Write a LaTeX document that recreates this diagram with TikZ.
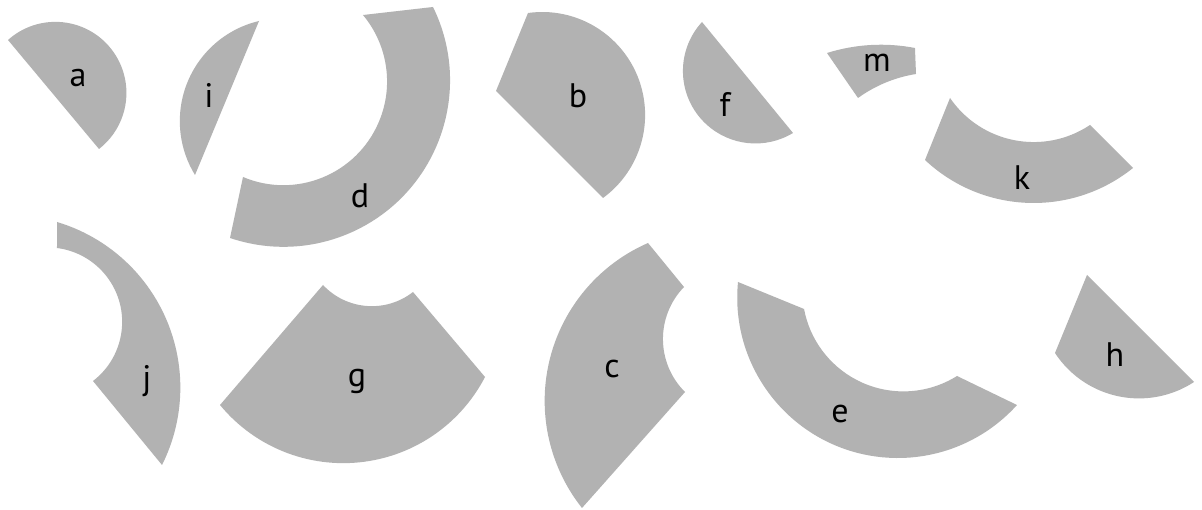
\documentclass[tikz,border=0pt]{standalone}
\usepackage{fontspec}
\setmainfont{PT Sans}
\definecolor{piecegray}{RGB}{178,178,178}
% circle arc through three points (pixel coordinates, y pointing down)
\newcommand\mkarc[7]{%
  \pgfmathsetmacro\mkbx{(#4-#2)/100}%
  \pgfmathsetmacro\mkby{(#3-#5)/100}%
  \pgfmathsetmacro\mkcx{(#6-#2)/100}%
  \pgfmathsetmacro\mkcy{(#3-#7)/100}%
  \pgfmathsetmacro\mkd{2*(\mkbx*\mkcy-\mkby*\mkcx)}%
  \pgfmathsetmacro\mkbb{\mkbx*\mkbx+\mkby*\mkby}%
  \pgfmathsetmacro\mkcc{\mkcx*\mkcx+\mkcy*\mkcy}%
  \pgfmathsetmacro\mkux{(\mkcy*\mkbb-\mkby*\mkcc)/\mkd}%
  \pgfmathsetmacro\mkuy{(\mkbx*\mkcc-\mkcx*\mkbb)/\mkd}%
  \pgfmathsetmacro\mkr{100*veclen(\mkux,\mkuy)}%
  \pgfmathsetmacro\mka{atan2(-\mkuy,-\mkux)}%
  \pgfmathsetmacro\mkb{atan2(\mkby-\mkuy,\mkbx-\mkux)}%
  \pgfmathsetmacro\mkc{atan2(\mkcy-\mkuy,\mkcx-\mkux)}%
  \pgfmathsetmacro\mkdb{mod(\mkb-\mka+720,360)}%
  \pgfmathsetmacro\mkdc{mod(\mkc-\mka+720,360)}%
  \pgfmathsetmacro\mke{\mkdb<\mkdc ? \mka+\mkdc : \mka+\mkdc-360}%
  \xdef#1{arc[start angle=\mka, end angle=\mke, radius=\mkr pt]}%
}
\begin{document}
\begin{tikzpicture}[x=1pt,y=1pt,
  piece/.style={fill=piecegray},
  lbl/.style={anchor=base,inner sep=0pt,font=\fontsize{34}{40}\selectfont}]
\useasboundingbox (0,-510) rectangle (1202,0);
\fill[white] (0,-510) rectangle (1202,0);
% a
\mkarc\arcAo{8}{40}{126}{85}{99}{149}
\fill[piece] (8,-40) \arcAo -- cycle;
% i
\mkarc\arcIo{259}{21}{182}{100}{195}{175}
\fill[piece] (259,-21) \arcIo -- cycle;
% d
\mkarc\arcDo{433}{7}{450}{83}{230}{238}
\mkarc\arcDi{243}{177}{387}{77}{363}{15}
\fill[piece] (433,-7) \arcDo -- (243,-177) \arcDi -- cycle;
% b
\mkarc\arcBo{528}{13}{645}{110}{603}{198}
\fill[piece] (528,-13) \arcBo -- (496,-91) -- cycle;
% f
\mkarc\arcFo{702}{22}{702}{120}{793}{133}
\fill[piece] (702,-22) \arcFo -- cycle;
% m
\mkarc\arcMo{827}{53}{871}{45}{915}{48}
\mkarc\arcMi{916}{74}{887}{82}{858}{98}
\fill[piece] (827,-53) \arcMo -- (916,-74) \arcMi -- cycle;
% k
\mkarc\arcKo{925}{160}{1033}{203}{1133}{168}
\mkarc\arcKi{1090}{125}{1030}{142}{950}{98}
\fill[piece] (925,-160) \arcKo -- (1090,-125) \arcKi -- cycle;
% j
\mkarc\arcJo{57}{222}{180}{377}{162}{465}
\mkarc\arcJi{93}{381}{122}{317}{57}{248}
\fill[piece] (57,-222) \arcJo -- (93,-381) \arcJi -- cycle;
% g
\mkarc\arcGo{220}{405}{350}{463}{485}{377}
\mkarc\arcGi{413}{292}{367}{306}{323}{285}
\fill[piece] (220,-405) \arcGo -- (413,-292) \arcGi -- cycle;
% c
\mkarc\arcCo{648}{243}{545}{390}{582}{508}
\mkarc\arcCi{685}{392}{663}{342}{684}{287}
\fill[piece] (648,-243) \arcCo -- (685,-392) \arcCi -- cycle;
% e
\mkarc\arcEo{738}{282}{830}{443}{1017}{405}
\mkarc\arcEi{957}{376}{863}{383}{804}{309}
\fill[piece] (738,-282) \arcEo -- (957,-376) \arcEi -- cycle;
% h
\mkarc\arcHo{1055}{353}{1130}{398}{1194}{382}
\fill[piece] (1055,-353) \arcHo -- (1087,-275) -- cycle;
% labels
\node[lbl] (la) at (78,-87) {a};
\node[lbl] (li) at (209,-108) {i};
\node[lbl] (ld) at (360,-208) {d};
\node[lbl] (lb) at (578,-108) {b};
\node[lbl] (lf) at (725,-117) {f};
\node[lbl] (lm) at (877,-72) {m};
\node[lbl] (lk) at (1022,-190) {k};
\node[lbl] (lj) at (147,-389) {j};
\node[lbl] (lg) at (357,-387) {g};
\node[lbl] (lc) at (612,-378) {c};
\node[lbl] (le) at (840,-422) {e};
\node[lbl] (lh) at (1115,-367) {h};
\end{tikzpicture}
\end{document}
